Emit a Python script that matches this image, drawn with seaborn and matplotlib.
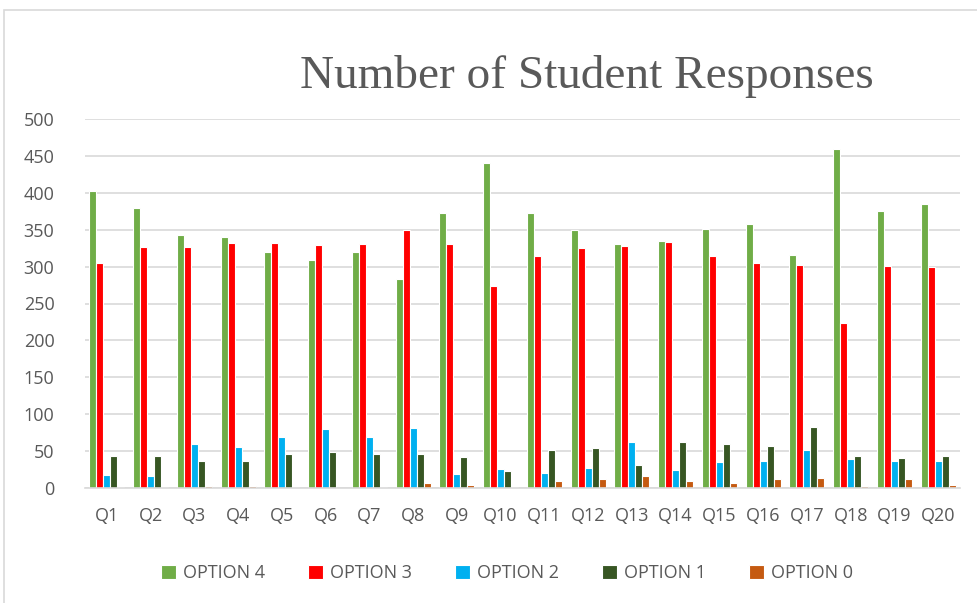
import matplotlib
matplotlib.use("Agg")
import matplotlib.pyplot as plt
import seaborn as sns
import pandas as pd
from matplotlib.patches import Rectangle

questions = [f"Q{i}" for i in range(1, 21)]
option4 = [402, 380, 343, 340, 320, 309, 320, 283, 372, 441, 372, 350, 330, 335, 351, 358, 316, 460, 376, 385]
option3 = [305, 326, 326, 332, 332, 329, 330, 349, 330, 274, 315, 325, 328, 334, 315, 305, 302, 223, 301, 299]
option2 = [17, 16, 59, 56, 69, 80, 69, 81, 19, 26, 20, 27, 62, 25, 35, 37, 51, 39, 36, 36]
option1 = [43, 43, 36, 36, 46, 49, 46, 46, 42, 23, 51, 54, 31, 63, 60, 57, 83, 43, 41, 43]
option0 = [2, 2, 3, 3, 2, 0, 2, 7, 4, 2, 9, 12, 16, 10, 7, 12, 13, 3, 12, 4]

series_names = ["OPTION 4", "OPTION 3", "OPTION 2", "OPTION 1", "OPTION 0"]
series_vals = [option4, option3, option2, option1, option0]
colors = ["#70AD47", "#FF0000", "#00B0F0", "#375623", "#C55A11"]

rows = []
for name, vals in zip(series_names, series_vals):
    for q, v in zip(questions, vals):
        rows.append({"Question": q, "Option": name, "Count": v})
df = pd.DataFrame(rows)

sns.set_theme(style="white")
plt.rcParams["font.family"] = ["Open Sans", "DejaVu Sans"]

fig = plt.figure(figsize=(9.78, 6.03), dpi=100)
ax = fig.add_axes([85/978, 1-488/603, 875/978, (488-119)/603])

sns.barplot(data=df, x="Question", y="Count", hue="Option", order=questions,
            hue_order=series_names, palette=colors, width=0.8, saturation=1,
            edgecolor="white", linewidth=0.8, ax=ax, legend=True)

ax.set_ylim(0, 500)
ax.set_yticks(range(0, 501, 50))
ax.set_xlim(-0.5, 19.5)
ax.yaxis.grid(True, color="#D9D9D9", linewidth=1.2)
ax.set_axisbelow(True)
for s in ["top", "right", "left"]:
    ax.spines[s].set_visible(False)
ax.spines["bottom"].set_color("#D9D9D9")
ax.spines["bottom"].set_linewidth(1.2)
ax.set_xlabel("")
ax.set_ylabel("")
ax.tick_params(axis="both", length=0, labelsize=13, colors="#595959")
ax.tick_params(axis="x", pad=14)
ax.tick_params(axis="y", pad=22)

handles, labels = ax.get_legend_handles_labels()
ax.legend_.remove()
fig.legend(handles, labels, loc="center", bbox_to_anchor=(507/978, 1-573/603),
           ncol=5, frameon=False, fontsize=13, handlelength=0.8, handleheight=0.8,
           columnspacing=2.4, handletextpad=0.4, labelcolor="#595959")

fig.text(587/978, 1-77/603, "Number of Student Responses", ha="center", va="center",
         fontsize=34, color="#595959", family=["Liberation Serif", "DejaVu Serif"])

fig.patches.append(Rectangle((4/978, -0.1), 1.2, 1.1 - 10/603, transform=fig.transFigure,
                             fill=False, edgecolor="#D9D9D9", linewidth=1.2))

fig.savefig("out.png", dpi=100)
